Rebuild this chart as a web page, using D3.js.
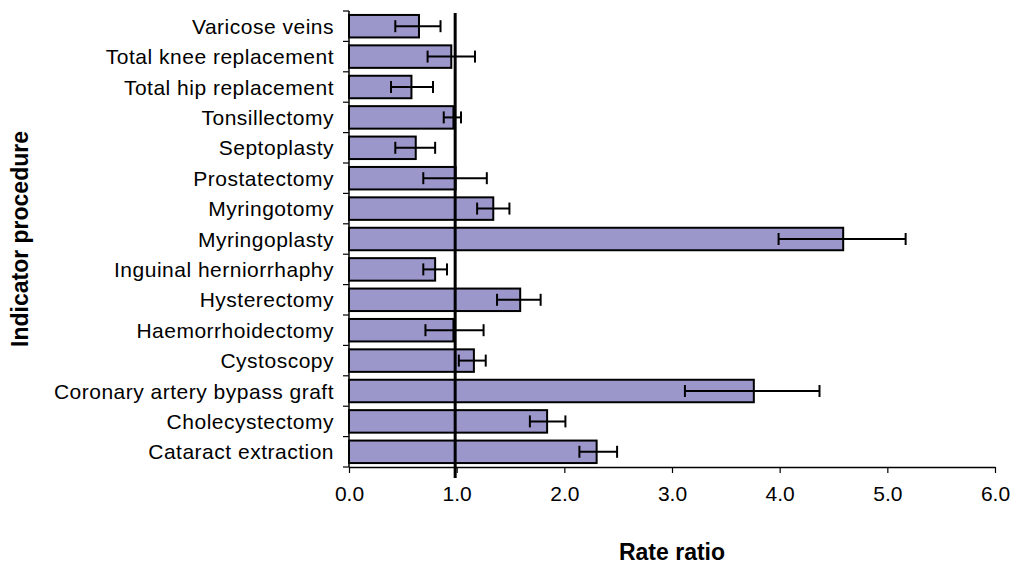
<!DOCTYPE html>
<html>
<head>
<meta charset="utf-8">
<script src="https://cdn.jsdelivr.net/npm/d3@7"></script>
<style>
  body { margin: 0; background: #fff; }
  svg { display: block; }
  text { font-family: "Liberation Sans", Arial, sans-serif; fill: #000; }
</style>
</head>
<body>
<svg id="chart" width="1016" height="564"></svg>
<script>
const categories = [
  "Varicose veins", "Total knee replacement", "Total hip replacement", "Tonsillectomy",
  "Septoplasty", "Prostatectomy", "Myringotomy", "Myringoplasty",
  "Inguinal herniorrhaphy", "Hysterectomy", "Haemorrhoidectomy", "Cystoscopy",
  "Coronary artery bypass graft", "Cholecystectomy", "Cataract extraction"
];
const rateRatio = [0.65, 0.95, 0.58, 0.97, 0.62, 0.99, 1.34, 4.59, 0.80, 1.59, 0.97, 1.16, 3.76, 1.84, 2.30];
const ciLower   = [0.43, 0.73, 0.39, 0.88, 0.43, 0.69, 1.19, 3.99, 0.69, 1.375, 0.71, 1.02, 3.12, 1.68, 2.14];
const ciUpper   = [0.85, 1.17, 0.78, 1.04, 0.80, 1.28, 1.49, 5.17, 0.91, 1.78, 1.25, 1.27, 4.37, 2.01, 2.49];
const xTicks = [0, 1, 2, 3, 4, 5, 6];
const referenceValue = 1;

(function () {
const data = categories.map((c, i) => ({ name: c, v: rateRatio[i], lo: ciLower[i], hi: ciUpper[i] }));

const svg = d3.select("#chart");
const mLeft = 349, mRight = 995, mTop = 11, mBottom = 467;

const x = d3.scaleLinear().domain([0, 6]).range([mLeft, mRight]);
const y = d3.scaleBand().domain(categories).range([mTop, mBottom]).paddingInner(0.26).paddingOuter(0.13);

// bars
svg.append("g").selectAll("rect").data(data).join("rect")
  .attr("x", x(0))
  .attr("y", d => y(d.name))
  .attr("width", d => x(d.v) - x(0))
  .attr("height", y.bandwidth())
  .attr("fill", "#9b97ca")
  .attr("stroke", "#000")
  .attr("stroke-width", 2);

// reference line
svg.append("line")
  .attr("x1", x(referenceValue) - 1.5).attr("x2", x(referenceValue) - 1.5)
  .attr("y1", mTop + 2).attr("y2", mBottom + 11)
  .attr("stroke", "#000").attr("stroke-width", 3);

// error bars
const eb = svg.append("g").attr("stroke", "#000").attr("stroke-width", 2);
data.forEach(d => {
  const cy = y(d.name) + y.bandwidth() / 2;
  eb.append("line").attr("x1", x(d.lo)).attr("x2", x(d.hi)).attr("y1", cy).attr("y2", cy);
  eb.append("line").attr("x1", x(d.lo)).attr("x2", x(d.lo)).attr("y1", cy - 6).attr("y2", cy + 6);
  eb.append("line").attr("x1", x(d.hi)).attr("x2", x(d.hi)).attr("y1", cy - 6).attr("y2", cy + 6);
});

// x axis
const xAxis = d3.axisBottom(x).tickValues(xTicks).tickFormat(d3.format(".1f")).tickSize(6).tickSizeOuter(0);
const gx = svg.append("g").attr("transform", `translate(0,${mBottom})`).call(xAxis);
gx.select(".domain").attr("stroke", "#000").attr("stroke-width", 1.5);
gx.selectAll(".tick line").attr("stroke", "#000").attr("stroke-width", 1.2);
gx.selectAll(".tick text").attr("font-size", 21).attr("dy", "1.2em")
  .style("font-family", "Liberation Sans, Arial, sans-serif");

// y axis: line and ticks at band boundaries
const gy = svg.append("g");
gy.append("line").attr("x1", mLeft).attr("x2", mLeft).attr("y1", mTop).attr("y2", mBottom)
  .attr("stroke", "#000").attr("stroke-width", 1.5);
const boundaries = d3.range(categories.length + 1).map(i => mTop + i * (mBottom - mTop) / categories.length);
gy.selectAll("line.tk").data(boundaries).join("line").attr("class", "tk")
  .attr("x1", mLeft - 6).attr("x2", mLeft).attr("y1", d => d).attr("y2", d => d)
  .attr("stroke", "#000").attr("stroke-width", 1.2);
gy.selectAll("text").data(categories).join("text")
  .attr("x", mLeft - 15)
  .attr("y", d => y(d) + y.bandwidth() / 2)
  .attr("dy", "0.36em")
  .attr("text-anchor", "end")
  .attr("font-size", 21)
  .attr("letter-spacing", 0.5)
  .text(d => d);

// axis titles
svg.append("text")
  .attr("x", (mLeft + mRight) / 2).attr("y", 560)
  .attr("text-anchor", "middle").attr("font-size", 23).attr("font-weight", "bold")
  .text("Rate ratio");
svg.append("text")
  .attr("transform", `translate(28,${(mTop + mBottom) / 2}) rotate(-90)`)
  .attr("text-anchor", "middle").attr("font-size", 23).attr("font-weight", "bold")
  .text("Indicator procedure");
})();
</script>
</body>
</html>
